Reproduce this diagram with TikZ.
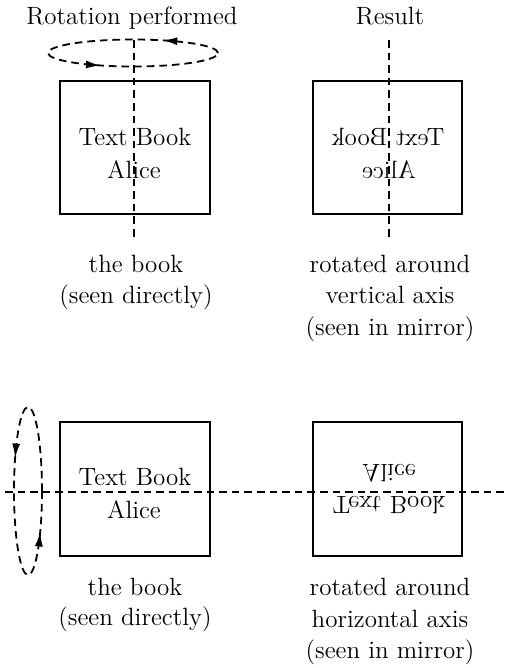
\documentclass[tikz,border=0pt]{standalone}
\usetikzlibrary{arrows.meta,decorations.markings}
\begin{document}
\begin{tikzpicture}[x=0.5pt,y=-0.5pt,
  bookbox/.style={draw, line width=0.9pt},
  axisline/.style={line width=0.9pt, dash pattern=on 3.8pt off 2.5pt},
  lbl/.style={anchor=base, inner sep=0pt, font=\fontsize{12.5}{14}\selectfont},
  tip/.style={solid, line width=0.6pt},
  arrowtip/.tip={Latex[length=7pt,width=4pt]},
]
\useasboundingbox (0,0) rectangle (506,668);

% titles
\node[lbl] (title1) at (132,25) {Rotation performed};
\node[lbl] (title2) at (390,25) {Result};

% top row boxes
\draw[bookbox] (60,81) rectangle (210,214);
\draw[bookbox] (313,81) rectangle (462,214);

% top ellipse (rotation around vertical axis)
\draw[axisline, postaction={decorate}, decoration={markings,
    mark=at position 0.164 with {\arrow[tip]{arrowtip}},
    mark=at position 0.656 with {\arrow[tip]{arrowtip}}}]
  (133,53) ellipse [x radius=42.5pt, y radius=6.75pt];

% vertical axes
\coordinate (va1) at (134,40);
\coordinate (vb1) at (134,240);
\coordinate (va2) at (389,40);
\coordinate (vb2) at (389,240);
\draw[axisline] (va1) -- (vb1);
\draw[axisline] (va2) -- (vb2);

% top texts
\node[lbl] (t1a) at (135,146) {Text Book};
\node[lbl] (t1b) at (134,178) {Alice};
\node[lbl, xscale=-1] (t2a) at (388,146) {Text Book};
\node[lbl, xscale=-1] (t2b) at (389,178) {Alice};

% top captions
\node[lbl] (c1a) at (136,272) {the book};
\node[lbl] (c1b) at (136,303) {(seen directly)};
\node[lbl] (c2a) at (390,272) {rotated around};
\node[lbl] (c2b) at (390,303) {vertical axis};
\node[lbl] (c2c) at (390,335) {(seen in mirror)};

% bottom row boxes
\draw[bookbox] (60,422) rectangle (210,556);
\draw[bookbox] (313,422) rectangle (462,556);

% bottom ellipse (rotation around horizontal axis)
\draw[axisline, postaction={decorate}, decoration={markings,
    mark=at position 0.404 with {\arrow[tip]{arrowtip}},
    mark=at position 0.881 with {\arrow[tip]{arrowtip}}}]
  (28,491) ellipse [x radius=7pt, y radius=42pt];

% horizontal axis
\coordinate (ha) at (5,492);
\coordinate (hb) at (506,492);
\draw[axisline] (ha) -- (hb);

% bottom texts
\node[lbl] (t3a) at (135,485) {Text Book};
\node[lbl] (t3b) at (134,518) {Alice};
\node[lbl, yscale=-1] (t4a) at (389,496) {Text Book};
\node[lbl, yscale=-1] (t4b) at (389,464) {Alice};

% bottom captions
\node[lbl] (c3a) at (135,595) {the book};
\node[lbl] (c3b) at (135,625) {(seen directly)};
\node[lbl] (c4a) at (390,595) {rotated around};
\node[lbl] (c4b) at (390,627) {horizontal axis};
\node[lbl] (c4c) at (390,658) {(seen in mirror)};
\end{tikzpicture}
\end{document}
